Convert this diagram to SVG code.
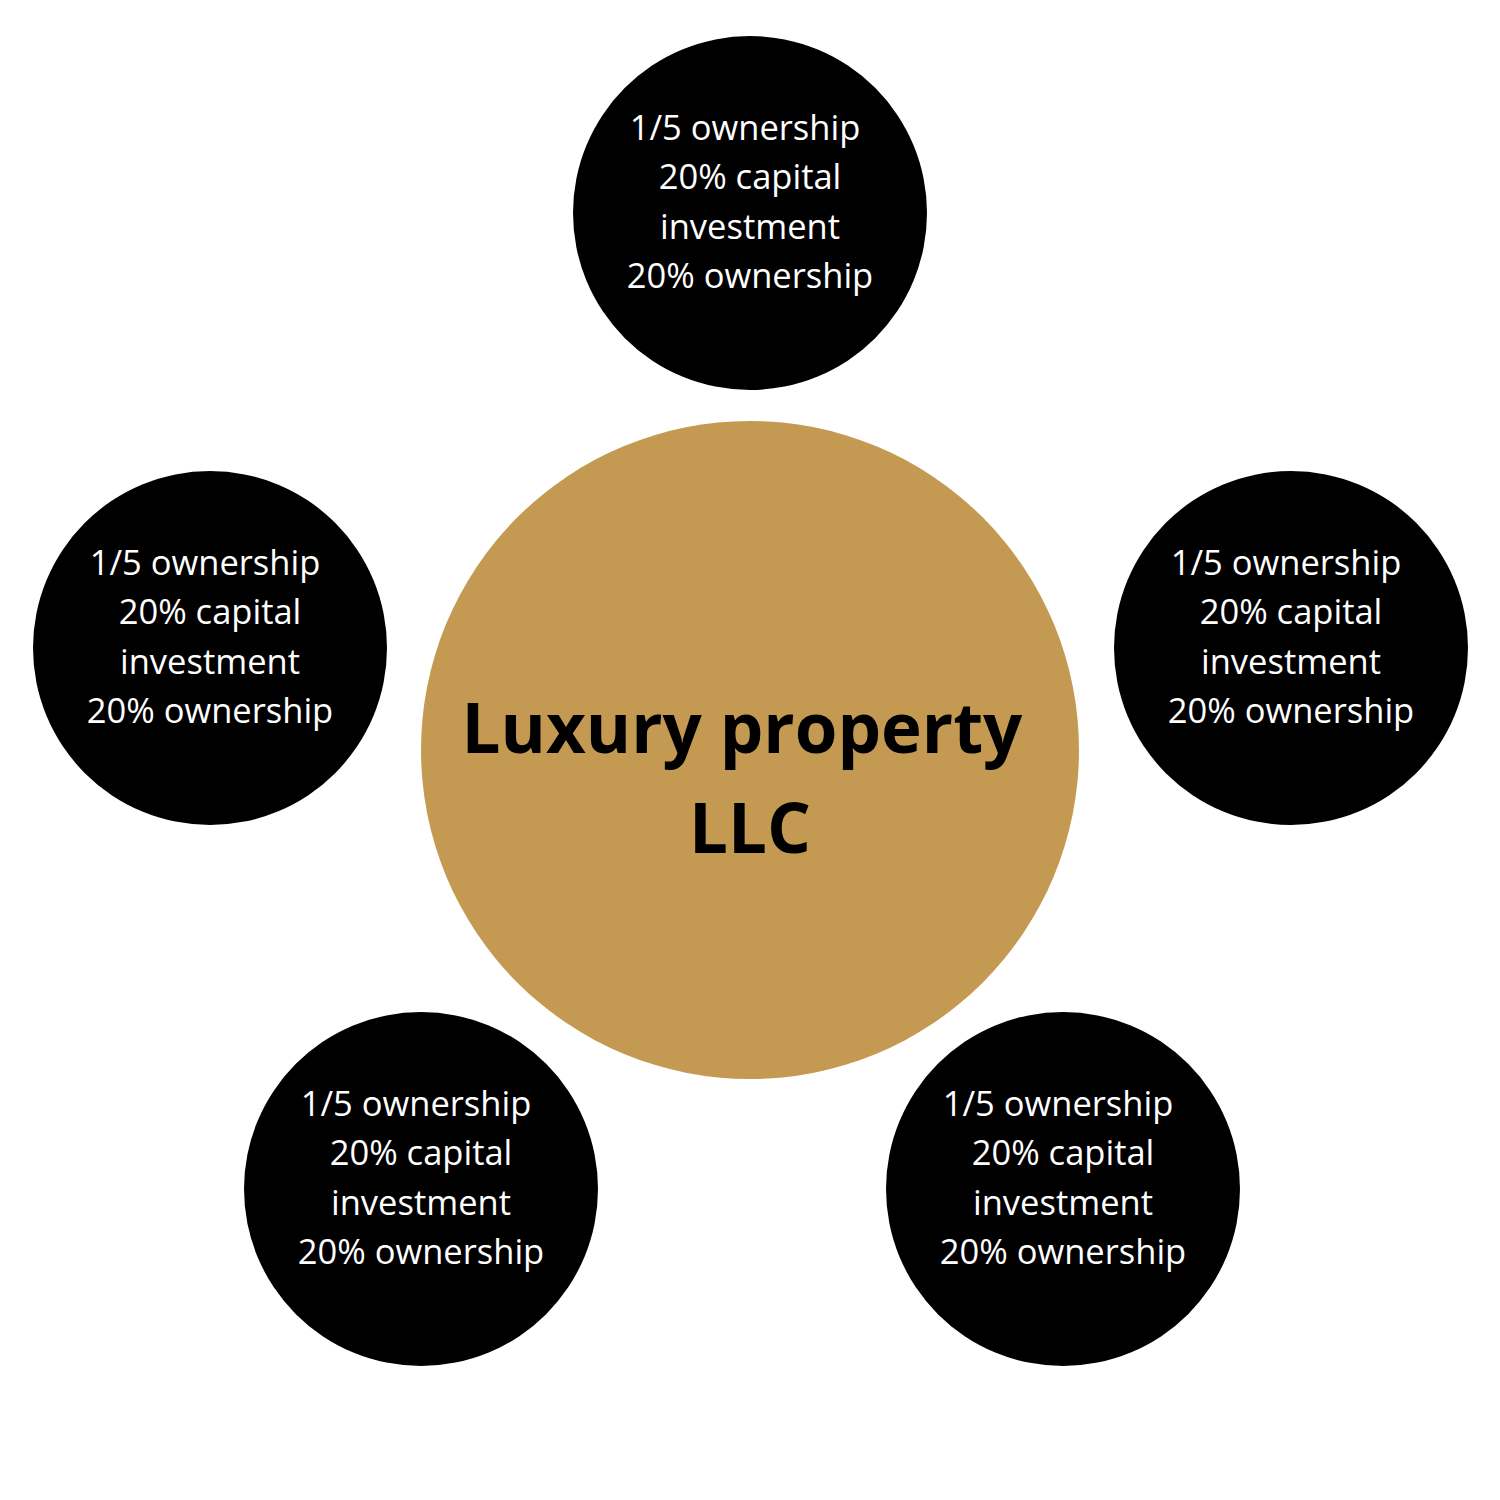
<svg xmlns="http://www.w3.org/2000/svg" width="1500" height="1500" viewBox="0 0 1500 1500">
<style>
.owner{fill:#000000}
.t{font-family:"Open Sans","Liberation Sans",sans-serif;font-size:34.5px;fill:#ffffff;text-anchor:middle}
.c{font-family:"Open Sans","Liberation Sans",sans-serif;font-size:69px;font-weight:700;fill:#000000;text-anchor:middle}
</style>
<rect width="1500" height="1500" fill="#ffffff"/>
<g id="connectors"></g>
<g id="center">
<circle cx="750" cy="750" r="329" fill="#C49A53"/>
<text class="c" x="742" y="753">Luxury property</text>
<text class="c" x="750" y="853">LLC</text>
</g>
<g id="owner-top">
<circle class="owner" cx="750" cy="213" r="177"/>
<text class="t" x="745" y="140">1/5 ownership</text>
<text class="t" x="750" y="189">20% capital</text>
<text class="t" x="750" y="239">investment</text>
<text class="t" x="750" y="288">20% ownership</text>
</g>
<g id="owner-left">
<circle class="owner" cx="210" cy="648" r="177"/>
<text class="t" x="205" y="575">1/5 ownership</text>
<text class="t" x="210" y="624">20% capital</text>
<text class="t" x="210" y="674">investment</text>
<text class="t" x="210" y="723">20% ownership</text>
</g>
<g id="owner-right">
<circle class="owner" cx="1291" cy="648" r="177"/>
<text class="t" x="1286" y="575">1/5 ownership</text>
<text class="t" x="1291" y="624">20% capital</text>
<text class="t" x="1291" y="674">investment</text>
<text class="t" x="1291" y="723">20% ownership</text>
</g>
<g id="owner-bottom-left">
<circle class="owner" cx="421" cy="1189" r="177"/>
<text class="t" x="416" y="1116">1/5 ownership</text>
<text class="t" x="421" y="1165">20% capital</text>
<text class="t" x="421" y="1215">investment</text>
<text class="t" x="421" y="1264">20% ownership</text>
</g>
<g id="owner-bottom-right">
<circle class="owner" cx="1063" cy="1189" r="177"/>
<text class="t" x="1058" y="1116">1/5 ownership</text>
<text class="t" x="1063" y="1165">20% capital</text>
<text class="t" x="1063" y="1215">investment</text>
<text class="t" x="1063" y="1264">20% ownership</text>
</g>
</svg>
